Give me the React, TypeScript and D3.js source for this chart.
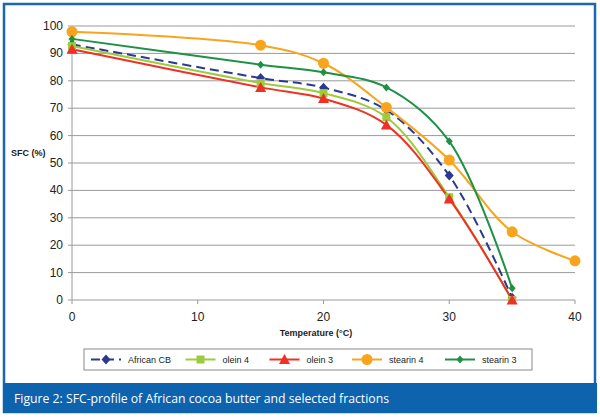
import React from "react";
import * as d3 from "d3";

const temps = [0, 15, 20, 25, 30, 35];
const tempsStearin4 = [0, 15, 20, 25, 30, 35, 40];
const africanCB = [93.3, 81, 77.5, 69.3, 45.4, 0.8];
const olein4 = [92.7, 79.2, 75.5, 66.7, 37.5, 0];
const olein3 = [91.5, 77.6, 73.5, 63.9, 36.9, 0];
const stearin4 = [97.9, 93, 86.4, 70.3, 51.1, 24.9, 14.3];
const stearin3 = [95.3, 85.9, 83.1, 77.6, 57.9, 4.3];
const seriesNames = ["African CB", "olein 4", "olein 3", "stearin 4", "stearin 3"];
const xTicks = [0, 10, 20, 30, 40];
const yTicks = [0, 10, 20, 30, 40, 50, 60, 70, 80, 90, 100];
const caption = "Figure 2: SFC-profile of African cocoa butter and selected fractions";

type Marker = "diamond" | "square" | "triangle" | "circle" | "smallDiamond";

const series = [
  { name: seriesNames[0], x: temps, y: africanCB, color: "#2B3990", marker: "diamond" as Marker, dash: "9,5" },
  { name: seriesNames[1], x: temps, y: olein4, color: "#9DCB3C", marker: "square" as Marker, dash: "" },
  { name: seriesNames[2], x: temps, y: olein3, color: "#EE3124", marker: "triangle" as Marker, dash: "" },
  { name: seriesNames[3], x: tempsStearin4, y: stearin4, color: "#F8A51D", marker: "circle" as Marker, dash: "" },
  { name: seriesNames[4], x: temps, y: stearin3, color: "#1E9145", marker: "smallDiamond" as Marker, dash: "" },
];

const legendX = [91, 185.5, 269.5, 352, 445];

function MarkerShape({ type, cx, cy, color }: { type: Marker; cx: number; cy: number; color: string }) {
  switch (type) {
    case "diamond":
      return <path d={`M${cx},${cy - 5}L${cx + 4.5},${cy}L${cx},${cy + 5}L${cx - 4.5},${cy}Z`} fill={color} />;
    case "square":
      return <rect x={cx - 4} y={cy - 4} width={8} height={8} fill={color} />;
    case "triangle":
      return <path d={`M${cx},${cy - 5.5}L${cx + 5.5},${cy + 4.5}L${cx - 5.5},${cy + 4.5}Z`} fill={color} />;
    case "circle":
      return <circle cx={cx} cy={cy} r={5.5} fill={color} />;
    case "smallDiamond":
      return <path d={`M${cx},${cy - 4}L${cx + 3.5},${cy}L${cx},${cy + 4}L${cx - 3.5},${cy}Z`} fill={color} />;
  }
}

export default function App() {
  const W = 600;
  const H = 417;
  const x = d3.scaleLinear().domain([0, 40]).range([72, 575]);
  const y = d3.scaleLinear().domain([0, 100]).range([300, 26]);
  const font = "Arial, 'Liberation Sans', sans-serif";

  const line = (xs: number[], ys: number[]) =>
    d3
      .line<number>()
      .x((_, i) => x(xs[i]))
      .y((d) => y(d))
      .curve(d3.curveCatmullRom.alpha(0.5))(ys) || "";

  return (
    <svg width={W} height={H} style={{ position: "absolute", left: 0, top: 0, background: "#fff" }}>
      <rect x={0} y={0} width={W} height={H} fill="#fff" />
      <rect x={4} y={4} width={591} height={408} fill="#fff" stroke="#1A68B2" strokeWidth={2.5} />
      <rect x={3} y={383} width={594} height={30} fill="#0D63AE" />
      <text x={14} y={403} fill="#fff" fontFamily="'Open Sans', 'Noto Sans', sans-serif" fontSize={12.5} textLength={375} lengthAdjust="spacingAndGlyphs">
        {caption}
      </text>

      {/* grid */}
      {yTicks.map((t) => (
        <g key={"g" + t}>
          <line x1={x(0)} x2={x(40)} y1={y(t)} y2={y(t)} stroke="#9a9a9a" strokeWidth={1} />
          <line x1={x(0) - 4} x2={x(0)} y1={y(t)} y2={y(t)} stroke="#9a9a9a" strokeWidth={1} />
          <text x={63} y={y(t) + 4} textAnchor="end" fontFamily={font} fontSize={12} fill="#222">
            {t}
          </text>
        </g>
      ))}
      <line x1={x(0)} x2={x(0)} y1={y(100)} y2={y(0)} stroke="#9a9a9a" strokeWidth={1} />
      {xTicks.map((t) => (
        <g key={"x" + t}>
          <line x1={x(t)} x2={x(t)} y1={y(0)} y2={y(0) + 4} stroke="#9a9a9a" strokeWidth={1} />
          <text x={x(t)} y={321} textAnchor="middle" fontFamily={font} fontSize={12} fill="#222">
            {t}
          </text>
        </g>
      ))}
      <text x={11} y={156} fontFamily={font} fontSize={9} fontWeight="bold" fill="#222">
        SFC (%)
      </text>
      <text x={316} y={336} textAnchor="middle" fontFamily={font} fontSize={9} fontWeight="bold" fill="#222">
        Temperature (°C)
      </text>

      {/* series */}
      {series.map((s) => (
        <g key={s.name}>
          <path d={line(s.x, s.y)} fill="none" stroke={s.color} strokeWidth={2} strokeDasharray={s.dash || undefined} />
        </g>
      ))}
      {series.map((s) => (
        <g key={s.name + "m"}>
          {s.y.map((v, i) => (
            <MarkerShape key={i} type={s.marker} cx={x(s.x[i])} cy={y(v)} color={s.color} />
          ))}
        </g>
      ))}

      {/* legend */}
      <rect x={84} y={349} width={448} height={21} fill="#fff" stroke="#8a8a8a" strokeWidth={1} />
      {series.map((s, i) => {
        const lx = legendX[i];
        const ly = 359.5;
        return (
          <g key={s.name + "l"}>
            <line x1={lx} x2={lx + 30} y1={ly} y2={ly} stroke={s.color} strokeWidth={2} strokeDasharray={s.dash ? "9,5" : undefined} />
            <MarkerShape type={s.marker} cx={lx + 15} cy={ly} color={s.color} />
            <text x={lx + 37} y={ly + 3} fontFamily={font} fontSize={9} fill="#222">
              {s.name}
            </text>
          </g>
        );
      })}
    </svg>
  );
}
